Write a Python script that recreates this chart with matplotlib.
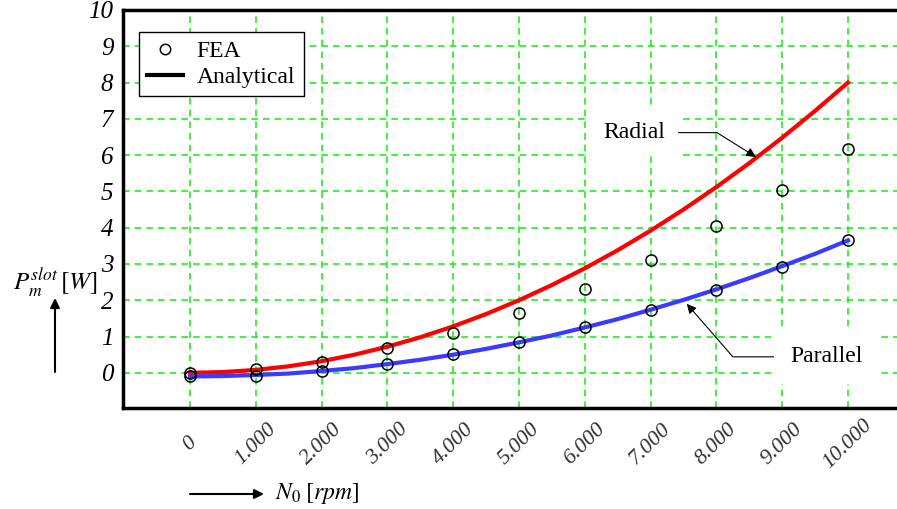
import matplotlib.pyplot as plt
from matplotlib.lines import Line2D
from matplotlib.ticker import FuncFormatter

plt.rcParams['font.family'] = 'Liberation Serif'
plt.rcParams['mathtext.fontset'] = 'stix'

# Speed (rpm) for the analytical curves, 500 rpm steps.
speed_curve = [0, 500, 1000, 1500, 2000, 2500, 3000, 3500, 4000, 4500, 5000,
               5500, 6000, 6500, 7000, 7500, 8000, 8500, 9000, 9500, 10000]
radial_curve = [0.0, 0.02, 0.08, 0.18, 0.32, 0.5, 0.72, 0.98, 1.28, 1.62, 2.0,
                2.42, 2.88, 3.38, 3.92, 4.5, 5.12, 5.78, 6.48, 7.22, 8.0]
parallel_curve = [-0.1, -0.09, -0.06, -0.02, 0.05, 0.13, 0.24, 0.36, 0.5, 0.66, 0.84,
                  1.03, 1.25, 1.48, 1.74, 2.01, 2.3, 2.61, 2.94, 3.28, 3.65]

# FEA points, 1000 rpm steps.
speed_fea = [0, 1000, 2000, 3000, 4000, 5000, 6000, 7000, 8000, 9000, 10000]
radial_fea = [0.0, 0.1, 0.3, 0.67, 1.1, 1.65, 2.32, 3.12, 4.04, 5.04, 6.17]
parallel_fea = [-0.1, -0.08, 0.05, 0.25, 0.52, 0.85, 1.27, 1.73, 2.29, 2.92, 3.65]

fig = plt.figure(figsize=(8.97, 5.09), dpi=100)
ax = fig.add_axes([123 / 897, 101 / 509, 1 - 123 / 897, 398 / 509])

ax.plot(speed_curve, radial_curve, color='red', lw=3, zorder=3)
ax.plot(speed_curve, parallel_curve, color='#3b3bff', lw=3, zorder=3)
ax.plot(speed_fea, radial_fea, 'o', mfc='none', mec='black', ms=8, mew=1.1, zorder=4)
ax.plot(speed_fea, parallel_fea, 'o', mfc='none', mec='black', ms=8, mew=1.1, zorder=4)

ax.set_xlim(-1020, 10745)
ax.set_ylim(-0.97, 10)
ax.set_xticks(speed_fea)
ax.set_yticks(range(0, 11))
ax.xaxis.set_major_formatter(FuncFormatter(lambda v, p: f'{int(v):,}'.replace(',', '.')))
ax.tick_params(length=0)
ax.tick_params(axis='y', labelsize=18, pad=7)
ax.tick_params(axis='x', labelsize=16, pad=26, labelcolor='#333333')
for lab in ax.get_yticklabels():
    lab.set_fontstyle('italic')
for lab in ax.get_xticklabels():
    lab.set_fontstyle('italic')
    lab.set_rotation(45)
    lab.set_rotation_mode('anchor')
    lab.set_ha('center')
    lab.set_va('center')

ax.grid(True, color='#22ee22', ls=(0, (4, 3)), lw=1.2, zorder=1)
ax.set_axisbelow(True)
for s in ['left', 'bottom', 'top']:
    ax.spines[s].set_linewidth(2.5)
ax.spines['right'].set_visible(False)

handles = [Line2D([], [], ls='none', marker='o', mfc='none', mec='black', ms=7.5, mew=1.1),
           Line2D([], [], color='black', lw=3)]
leg = ax.legend(handles, ['FEA', 'Analytical'], loc='upper left', bbox_to_anchor=(0.0115, 0.9625),
                fontsize=17, fancybox=False, edgecolor='black', framealpha=1,
                handlelength=1.5, handletextpad=0.6, borderpad=0.35, labelspacing=0.2,
                borderaxespad=0.3)
leg.get_frame().set_linewidth(1.0)

ax.annotate('Radial', xy=(8600, 5.95), xytext=(6750, 6.62), fontsize=17,
            ha='center', va='center', zorder=5,
            bbox=dict(boxstyle='square,pad=0.55', fc='white', ec='none'),
            arrowprops=dict(arrowstyle='-|>', color='black', lw=0.8, mutation_scale=14,
                            shrinkA=0, shrinkB=0,
                            connectionstyle='angle,angleA=0,angleB=-32,rad=0'))
ax.annotate('Parallel', xy=(7550, 1.9), xytext=(9680, 0.44), fontsize=17,
            ha='center', va='center', zorder=5,
            bbox=dict(boxstyle='square,pad=0.7', fc='white', ec='none'),
            arrowprops=dict(arrowstyle='-|>', color='black', lw=0.8, mutation_scale=14,
                            shrinkA=0, shrinkB=0,
                            connectionstyle='angle,angleA=0,angleB=-49,rad=0'))

# Axis labels with arrows, placed in figure pixels.
fig.text(55 / 897, 1 - 283 / 509, r'$P_m^{slot}\,[W]$', fontsize=18, ha='center', va='center')
ax.annotate('', xy=(55, 509 - 298), xytext=(55, 509 - 372), xycoords='figure pixels',
            arrowprops=dict(arrowstyle='-|>', color='black', lw=1.5, mutation_scale=14,
                            shrinkA=0, shrinkB=0), annotation_clip=False)
ax.annotate('', xy=(264, 509 - 494), xytext=(190, 509 - 494), xycoords='figure pixels',
            arrowprops=dict(arrowstyle='-|>', color='black', lw=1.5, mutation_scale=14,
                            shrinkA=0, shrinkB=0), annotation_clip=False)
fig.text(275 / 897, 1 - 494 / 509, r'$N_0\;[rpm]$', fontsize=17, ha='left', va='center')

fig.savefig('out.png', dpi=100)
